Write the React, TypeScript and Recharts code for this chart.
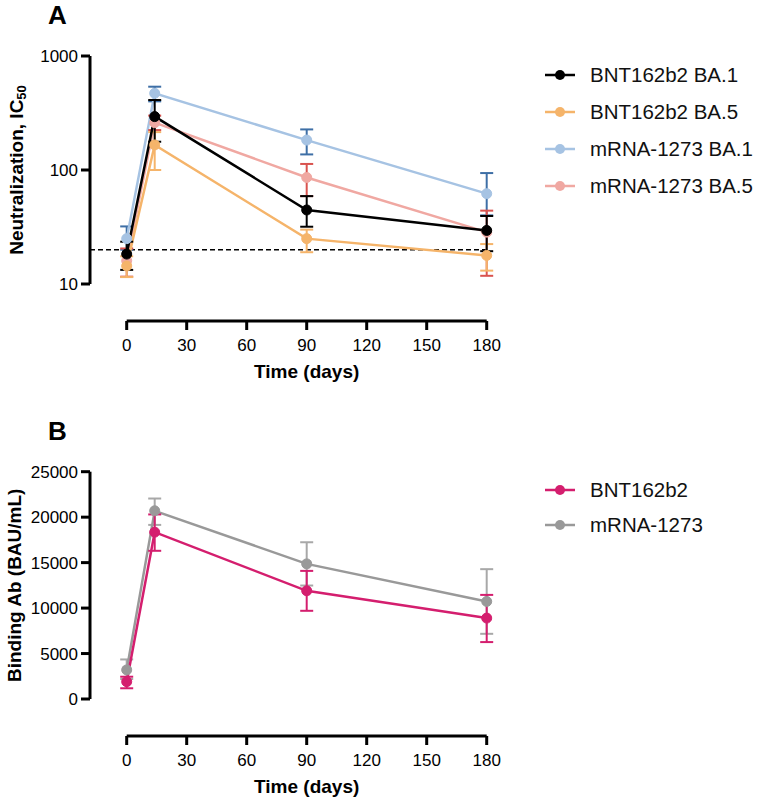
import React from "react";
import { ErrorBar, Legend, Line, LineChart, ReferenceLine, XAxis, YAxis } from "recharts";

// sampling days
const days = [0, 14, 90, 180];
const dayTicks = [0, 30, 60, 90, 120, 150, 180];

// panel A: neutralization IC50 (mean, lower bar, upper bar)
const bntBa1 = [18.3, 294, 44.6, 29.5];
const bntBa1Low = [13.3, 177, 31.8, 19.4];
const bntBa1High = [23.5, 411, 59, 39.5];
const bntBa5 = [14.4, 166, 25, 17.8];
const bntBa5Low = [11.5, 100, 19, 13.1];
const bntBa5High = [17.5, 215, 30, 22.4];
const modBa1 = [25, 471, 183, 62];
const modBa1Low = [20, 400, 137, 40];
const modBa1High = [32, 538, 227, 94];
const modBa5 = [16, 260, 86, 28.5];
const modBa5Low = [11.6, 224, 59, 11.8];
const modBa5High = [20.5, 300, 113, 44];
const neutTicks = [10, 100, 1000];
const cutoff = 20;

// panel B: binding antibody (BAU/mL)
const bntAb = [1900, 18350, 11900, 8900];
const bntAbLow = [1180, 16300, 9700, 6260];
const bntAbHigh = [2450, 20300, 14090, 11450];
const modAb = [3200, 20700, 14860, 10730];
const modAbLow = [2200, 19150, 12480, 7170];
const modAbHigh = [4350, 22050, 17240, 14280];
const abTicks = [0, 5000, 10000, 15000, 20000, 25000];

const FONT = "'Liberation Sans', Arial, Helvetica, sans-serif";

const err = (mean: number[], lo: number[], hi: number[], i: number) => [mean[i] - lo[i], hi[i] - mean[i]];

const neutData = days.map((d, i) => ({
  day: d,
  bnt1: bntBa1[i],
  bnt1Err: err(bntBa1, bntBa1Low, bntBa1High, i),
  bnt5: bntBa5[i],
  bnt5Err: err(bntBa5, bntBa5Low, bntBa5High, i),
  mod1: modBa1[i],
  mod1Err: err(modBa1, modBa1Low, modBa1High, i),
  mod5: modBa5[i],
  mod5Err: err(modBa5, modBa5Low, modBa5High, i),
}));

const abData = days.map((d, i) => ({
  day: d,
  bnt: bntAb[i],
  bntErr: err(bntAb, bntAbLow, bntAbHigh, i),
  mod: modAb[i],
  modErr: err(modAb, modAbLow, modAbHigh, i),
}));

const legendOrderA = ["BNT162b2 BA.1", "BNT162b2 BA.5", "mRNA-1273 BA.1", "mRNA-1273 BA.5"];
const legendOrderB = ["BNT162b2", "mRNA-1273"];

function makeLegend(order: string[], rowH: number) {
  return (props: any) => {
    const items = [...(props.payload || [])].sort(
      (a: any, b: any) => order.indexOf(a.value) - order.indexOf(b.value)
    );
    return (
      <div style={{ fontFamily: FONT }}>
        {items.map((it: any) => (
          <div key={it.value} style={{ height: rowH, display: "flex", alignItems: "center" }}>
            <svg width={30} height={12} style={{ display: "block" }}>
              <line x1={0} y1={6} x2={30} y2={6} stroke={it.color} strokeWidth={2.5} />
              <circle cx={15} cy={6} r={5} fill={it.color} />
            </svg>
            <span style={{ marginLeft: 15, fontSize: 20.5, color: "#111", whiteSpace: "nowrap" }}>{it.value}</span>
          </div>
        ))}
      </div>
    );
  };
}

function YTitle(props: any) {
  const vb = props.viewBox;
  const cy = vb ? vb.y + vb.height / 2 : props.fallbackY;
  const cx = props.cx;
  return (
    <text
      x={cx}
      y={cy}
      transform={`rotate(-90, ${cx}, ${cy})`}
      textAnchor="middle"
      dominantBaseline="central"
      fontFamily={FONT}
      fontWeight="bold"
      fontSize={19}
      fill="#000"
    >
      {props.main}
      {props.sub ? (
        <tspan fontSize={13} dy={5}>
          {props.sub}
        </tspan>
      ) : null}
    </text>
  );
}

const axisStroke = { stroke: "#000", strokeWidth: 3 };
const tickStyle = { fill: "#000", fontSize: 17, fontFamily: FONT };

function DayAxis({ top, gap, h }: { top: number; gap: number; h: number }) {
  // stand-alone time axis, offset below the plot like the original
  return (
    <div style={{ position: "absolute", left: 0, top }}>
      <LineChart width={762} height={h} data={neutData} margin={{ top: 0, right: 275.3, bottom: h - 40 - gap, left: 126.7 }}>
        <XAxis
          dataKey="day"
          type="number"
          domain={[0, 180]}
          ticks={dayTicks}
          interval={0}
          axisLine={axisStroke}
          tickLine={axisStroke}
          tickSize={9}
          tickMargin={9}
          tick={tickStyle}
          height={40}
          label={{
            value: "Time (days)",
            position: "bottom",
            offset: 4,
            style: { fill: "#000", fontSize: 19, fontWeight: "bold", fontFamily: FONT },
          }}
        />
      </LineChart>
    </div>
  );
}

export default function App() {
  const dot = (c: string) => ({ r: 5, fill: c, stroke: c, strokeWidth: 1 });
  return (
    <div
      style={{
        position: "absolute",
        left: 0,
        top: 0,
        width: 762,
        height: 802,
        overflow: "hidden",
        fontFamily: FONT,
        background: "#fff",
      }}
    >
      <div style={{ position: "absolute", left: 48, top: 2, fontSize: 26, lineHeight: "26px", fontWeight: "bold" }}>A</div>
      <div style={{ position: "absolute", left: 48, top: 418, fontSize: 26, lineHeight: "26px", fontWeight: "bold" }}>B</div>

      {/* Panel A */}
      <div style={{ position: "absolute", left: 0, top: 0 }}>
        <LineChart width={762} height={300} data={neutData} margin={{ top: 56, right: 274.3, bottom: 16, left: 0 }}>
          <XAxis dataKey="day" type="number" domain={[-18.35, 180.5]} ticks={dayTicks} hide />
          <YAxis
            scale="log"
            domain={[10, 1000]}
            ticks={neutTicks}
            interval={0}
            width={90}
            axisLine={axisStroke}
            tickLine={axisStroke}
            tickSize={9}
            tickMargin={3}
            tick={tickStyle}
            label={<YTitle cx={16} fallbackY={170} main="Neutralization, IC" sub="50" />}
          />
          <ReferenceLine y={cutoff} stroke="#000" strokeWidth={1.5} strokeDasharray="5 3" />
          <Line name="mRNA-1273 BA.1" dataKey="mod1" stroke="#a6c3e3" strokeWidth={2.5} dot={dot("#a6c3e3")} activeDot={false} isAnimationActive={false}>
            <ErrorBar dataKey="mod1Err" direction="y" width={6.5} stroke="#3e6fa6" strokeWidth={2} />
          </Line>
          <Line name="mRNA-1273 BA.5" dataKey="mod5" stroke="#f0a8a2" strokeWidth={2.5} dot={dot("#f0a8a2")} activeDot={false} isAnimationActive={false}>
            <ErrorBar dataKey="mod5Err" direction="y" width={6.5} stroke="#d9534f" strokeWidth={2} />
          </Line>
          <Line name="BNT162b2 BA.5" dataKey="bnt5" stroke="#f5b46a" strokeWidth={2.5} dot={dot("#f5b46a")} activeDot={false} isAnimationActive={false}>
            <ErrorBar dataKey="bnt5Err" direction="y" width={6.5} stroke="#f5b46a" strokeWidth={2} />
          </Line>
          <Line name="BNT162b2 BA.1" dataKey="bnt1" stroke="#000" strokeWidth={2.5} dot={dot("#000")} activeDot={false} isAnimationActive={false}>
            <ErrorBar dataKey="bnt1Err" direction="y" width={6.5} stroke="#000" strokeWidth={2} />
          </Line>
          <Legend
            layout="vertical"
            align="center"
            verticalAlign="middle"
            content={makeLegend(legendOrderA, 37)}
            wrapperStyle={{ left: 545, top: 56.5, width: 217, height: "auto" }}
          />
        </LineChart>
      </div>
      <DayAxis top={290} gap={31} h={110} />

      {/* Panel B */}
      <div style={{ position: "absolute", left: 0, top: 400 }}>
        <LineChart width={762} height={310} data={abData} margin={{ top: 71.7, right: 274.3, bottom: 11, left: 0 }}>
          <XAxis dataKey="day" type="number" domain={[-18.35, 180.5]} ticks={dayTicks} hide />
          <YAxis
            domain={[0, 25000]}
            ticks={abTicks}
            interval={0}
            width={90}
            axisLine={axisStroke}
            tickLine={axisStroke}
            tickSize={9}
            tickMargin={3}
            tick={tickStyle}
            label={<YTitle cx={15} fallbackY={188} main="Binding Ab (BAU/mL)" />}
          />
          <Line name="mRNA-1273" dataKey="mod" stroke="#999999" strokeWidth={2.5} dot={dot("#999999")} activeDot={false} isAnimationActive={false}>
            <ErrorBar dataKey="modErr" direction="y" width={6.5} stroke="#a8a8a8" strokeWidth={2} />
          </Line>
          <Line name="BNT162b2" dataKey="bnt" stroke="#d41e6e" strokeWidth={2.5} dot={dot("#d41e6e")} activeDot={false} isAnimationActive={false}>
            <ErrorBar dataKey="bntErr" direction="y" width={6.5} stroke="#d41e6e" strokeWidth={2} />
          </Line>
          <Legend
            layout="vertical"
            align="center"
            verticalAlign="middle"
            content={makeLegend(legendOrderB, 35)}
            wrapperStyle={{ left: 545, top: 72.5, width: 217, height: "auto" }}
          />
        </LineChart>
      </div>
      <DayAxis top={690} gap={46} h={112} />
    </div>
  );
}
